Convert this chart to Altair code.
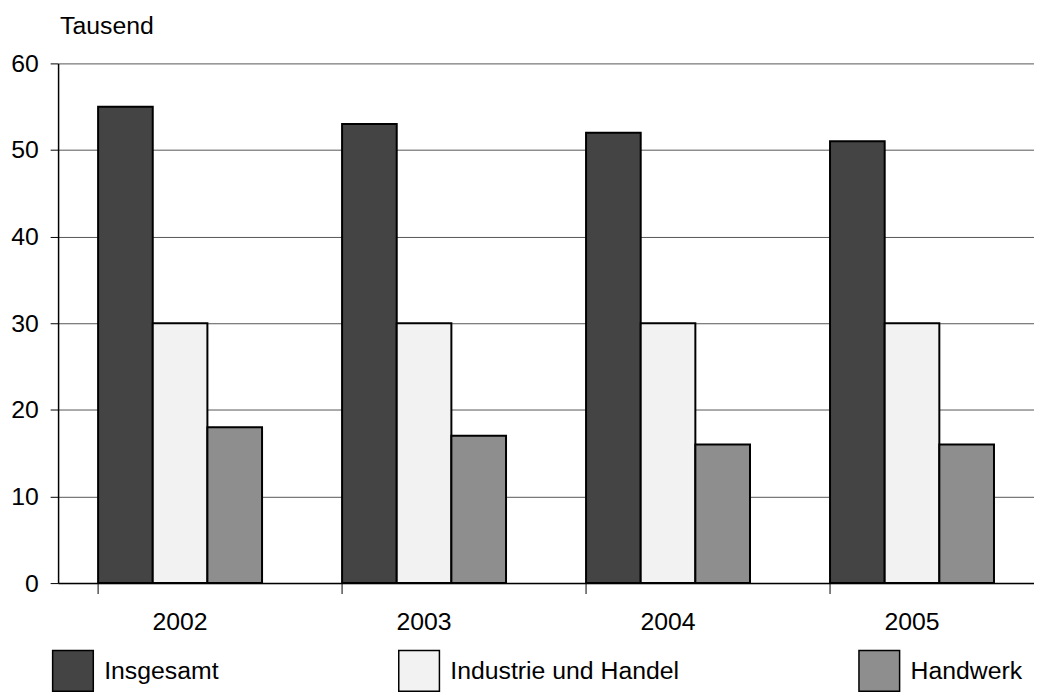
import altair as alt
import pandas as pd

years = ["2002", "2003", "2004", "2005"]
series = ["Insgesamt", "Industrie und Handel", "Handwerk"]
insgesamt = [55, 53, 52, 51]
industrie = [30, 30, 30, 30]
handwerk = [18, 17, 16, 16]
colors = ["#444444", "#f2f2f2", "#8e8e8e"]
y_ticks = [0, 10, 20, 30, 40, 50, 60]

rows = []
for i, yr in enumerate(years):
    for s, vals in zip(series, [insgesamt, industrie, handwerk]):
        rows.append({"year": yr, "series": s, "value": vals[i]})
df = pd.DataFrame(rows)
tick_df = pd.DataFrame({"year": years})

FONT = "Liberation Sans"
FS = 25
xscale = alt.Scale(domain=years, paddingInner=0.328, paddingOuter=0.164)

bars = alt.Chart(df).mark_bar(stroke="black", strokeWidth=2).encode(
    x=alt.X("year:N", scale=xscale,
            axis=alt.Axis(title=None, labelAngle=0, ticks=False, domain=True,
                          domainColor="black", domainWidth=1.5,
                          labelPadding=27, labelFontSize=FS, labelFont=FONT,
                          labelColor="black", grid=False)),
    xOffset=alt.XOffset("series:N", sort=series,
                        scale=alt.Scale(domain=series, paddingInner=0, paddingOuter=0)),
    y=alt.Y("value:Q", scale=alt.Scale(domain=[0, 60]),
            axis=alt.Axis(values=y_ticks, title="Tausend", titleAngle=0,
                          titleAlign="left", titleBaseline="alphabetic",
                          titleX=1.5, titleY=-30, titleFont=FONT, titleFontSize=FS,
                          titleFontWeight="normal", titleColor="black",
                          labelFont=FONT, labelFontSize=FS, labelColor="black",
                          labelPadding=12, tickSize=8, tickColor="black",
                          domainColor="black", domainWidth=1.5,
                          gridColor="#555555", gridWidth=1)),
    color=alt.Color("series:N", sort=series,
                    scale=alt.Scale(domain=series, range=colors),
                    legend=alt.Legend(title=None, orient="none", legendX=-6.5, legendY=591,
                                      direction="horizontal", columnPadding=178,
                                      symbolType="square",
                                      symbolSize=1681, symbolStrokeColor="black",
                                      symbolStrokeWidth=1.5, labelFont=FONT,
                                      labelFontSize=FS, labelColor="black",
                                      labelOffset=10, labelLimit=400)),
)

xticks = alt.Chart(tick_df).mark_rule(color="black", strokeWidth=1).encode(
    x=alt.X("year:N", bandPosition=0, scale=xscale),
    y=alt.value(524),
    y2=alt.value(535),
)

chart = alt.layer(bars, xticks).properties(
    width=984, height=524,
    autosize=alt.AutoSizeParams(type="none"),
    padding={"left": 50.5, "top": 53, "right": 0, "bottom": 113},
).configure_view(stroke=None)

chart.save("out.html", embed_options={"renderer": "svg", "actions": False})
